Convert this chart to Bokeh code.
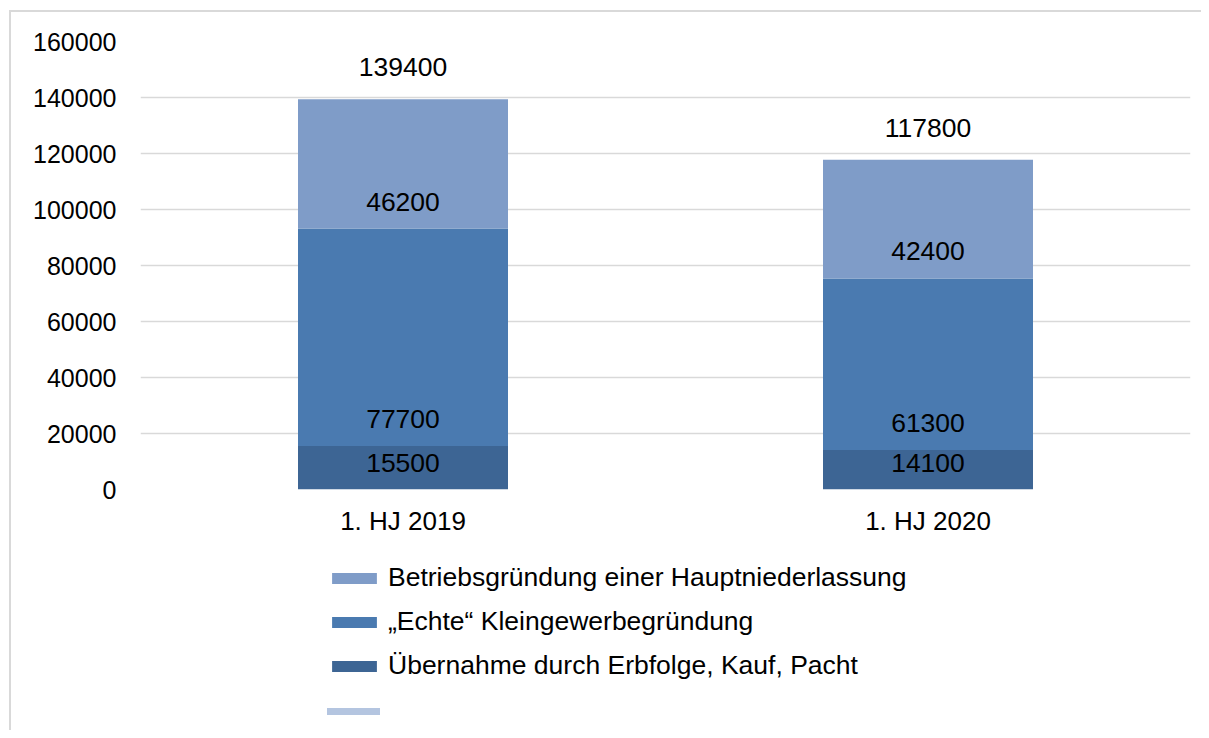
from bokeh.plotting import figure
from bokeh.layouts import column
from bokeh.models import (ColumnDataSource, LabelSet, Legend, LegendItem, FactorRange,
                          NumeralTickFormatter, Range1d)
from bokeh.core.properties import value
from bokeh.embed import file_html
from bokeh.resources import INLINE

categories = ["1. HJ 2019", "1. HJ 2020"]
series_names = ["Übernahme durch Erbfolge, Kauf, Pacht",
                "„Echte“ Kleingewerbegründung",
                "Betriebsgründung einer Hauptniederlassung"]
uebernahme = [15500, 14100]
echte = [77700, 61300]
betrieb = [46200, 42400]
totals = [139400, 117800]
y_ticks = [0, 20000, 40000, 60000, 80000, 100000, 120000, 140000, 160000]

colors = ["#3D6594", "#4A7AB0", "#7F9CC8"]
line_color = "#B4C5E0"
FONT = "Liberation Sans"
FS_TICK = "25px"
FS_X = "26px"
FS_LAB = "26.5px"
FS_LEG = "26.5px"

keys = ["s0", "s1", "s2"]
data = {"cat": categories, "s0": uebernahme, "s1": echte, "s2": betrieb}
src = ColumnDataSource(data)

p = figure(x_range=FactorRange(*categories, range_padding=0), y_range=(0, 160000),
           width=1201, height=540, output_backend="svg", toolbar_location=None,
           min_border_left=140, min_border_right=11, min_border_top=41, min_border_bottom=51)
p.outline_line_color = None
p.background_fill_color = "white"
p.border_fill_color = None

rs = p.vbar_stack(keys, x="cat", width=0.4, color=colors, source=src, line_color=None)

# labels (inside base)
lab_x, lab_y, lab_t = [], [], []
for i, c in enumerate(categories):
    base = 0
    for vals in (uebernahme, echte, betrieb):
        lab_x.append(c)
        lab_y.append(base)
        lab_t.append(str(vals[i]))
        base += vals[i]
lsrc = ColumnDataSource(dict(x=lab_x, y=lab_y, t=lab_t))
p.add_layout(LabelSet(x="x", y="y", text="t", source=lsrc, y_offset=27,
                      text_align="center", text_baseline="middle",
                      text_font=value(FONT), text_font_size=value(FS_LAB), text_color="#000000"))
tsrc = ColumnDataSource(dict(x=categories, y=totals, t=[str(v) for v in totals]))
p.add_layout(LabelSet(x="x", y="y", text="t", source=tsrc, y_offset=32,
                      text_align="center", text_baseline="middle",
                      text_font=value(FONT), text_font_size=value(FS_LAB), text_color="#000000"))

# axes
p.yaxis.ticker = y_ticks
p.yaxis.formatter = NumeralTickFormatter(format="0")
for ax in (p.xaxis, p.yaxis):
    ax.axis_line_color = None
    ax.major_tick_line_color = None
    ax.minor_tick_line_color = None
    ax.major_tick_out = 0
    ax.major_tick_in = 0
    ax.minor_tick_out = 0
    ax.minor_tick_in = 0
    ax.major_label_text_font = FONT
    ax.major_label_text_color = "#000000"
p.yaxis.major_label_text_font_size = FS_TICK
p.xaxis.major_label_text_font_size = FS_X
p.yaxis.major_label_standoff = 24
p.xaxis.major_label_standoff = 16
p.xgrid.grid_line_color = None
p.ygrid.grid_line_color = "#d9d9d9"
p.ygrid.grid_line_width = 1.5

# legend figure
q = figure(width=1201, height=190, output_backend="svg", toolbar_location=None,
           x_range=Range1d(0, 1), y_range=Range1d(0, 1),
           x_axis_type=None, y_axis_type=None,
           min_border_left=140, min_border_top=0, min_border_right=11, min_border_bottom=0)
q.outline_line_color = None
q.background_fill_color = None
q.border_fill_color = None
q.xgrid.visible = False
q.ygrid.visible = False
# placeholder renderers (outside the visible range) that only feed the legend
leg_src = ColumnDataSource(dict(x=[-5.0], top=[0.0]))
leg_r = [q.vbar(x="x", top="top", width=0.1, source=leg_src, color=c, line_color=None)
         for c in colors]
leg_line = q.line(x=[-5.0, -4.0], y=[-5.0, -5.0], line_color=line_color, line_width=7,
                  line_cap="round")
items = [LegendItem(label=series_names[2], renderers=[leg_r[2]]),
         LegendItem(label=series_names[1], renderers=[leg_r[1]]),
         LegendItem(label=series_names[0], renderers=[leg_r[0]])]
legend = Legend(items=items, location=(186, 49), orientation="vertical",
                glyph_width=56, glyph_height=14, label_standoff=6,
                label_text_font=FONT, label_text_font_size=FS_LEG, label_text_color="#000000",
                spacing=13, padding=0, margin=0, border_line_color=None,
                background_fill_alpha=0)
q.add_layout(legend, "center")
legend2 = Legend(items=[LegendItem(label=" ", renderers=[leg_line])], location=(187, 12),
                 glyph_width=53, glyph_height=14, label_standoff=6,
                 label_text_font=FONT, label_text_font_size=FS_LEG,
                 padding=0, margin=0, border_line_color=None, background_fill_alpha=0)
q.add_layout(legend2, "center")

layout = column(p, q, spacing=0)
layout.styles = {"box-shadow": "inset 9px 10px 0 #ffffff, inset 11px 12px 0 #d9d9d9",
                 "background-color": "#ffffff"}

open("out.html", "w").write(file_html(layout, INLINE))
